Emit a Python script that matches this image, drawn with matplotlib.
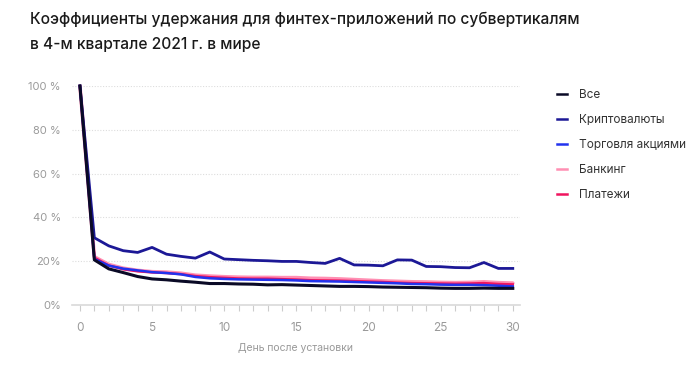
import matplotlib
matplotlib.use("Agg")
import matplotlib.pyplot as plt
from matplotlib.lines import Line2D

plt.rcParams['font.family'] = ['Inter', 'DejaVu Sans']

days = list(range(31))

vse = [100, 20.6, 16.5, 14.8, 13.0, 11.9, 11.5, 10.9, 10.4, 9.8, 9.8, 9.6, 9.5, 9.2, 9.3,
       9.1, 8.9, 8.7, 8.5, 8.5, 8.4, 8.2, 8.1, 8.0, 7.9, 7.7, 7.6, 7.6, 7.7, 7.6, 7.6]
crypto = [100, 30.7, 27.0, 24.8, 24.0, 26.3, 23.2, 22.2, 21.4, 24.2, 21.0, 20.7, 20.4, 20.2, 19.9,
          19.9, 19.4, 19.0, 21.3, 18.3, 18.2, 17.9, 20.6, 20.5, 17.6, 17.5, 17.1, 17.0, 19.4, 16.7, 16.7]
trading = [100, 21.0, 18.0, 16.6, 15.8, 15.0, 14.6, 14.0, 12.8, 12.2, 11.9, 11.7, 11.6, 11.5, 11.4,
           11.2, 10.9, 10.8, 10.7, 10.5, 10.3, 10.1, 9.9, 9.6, 9.5, 9.3, 9.2, 9.2, 9.1, 8.8, 8.5]
banking = [100, 22.0, 18.5, 16.8, 15.8, 15.2, 15.0, 14.5, 13.6, 13.2, 12.9, 12.7, 12.6, 12.6, 12.5,
           12.5, 12.2, 12.1, 11.9, 11.6, 11.3, 11.0, 10.8, 10.6, 10.5, 10.3, 10.2, 10.3, 10.6, 10.2, 10.0]
payments = [100, 21.6, 18.0, 16.3, 15.4, 14.9, 14.6, 14.1, 13.2, 12.7, 12.4, 12.1, 12.0, 12.0, 11.8,
            11.6, 11.3, 11.2, 11.1, 10.9, 10.7, 10.5, 10.2, 10.0, 9.9, 9.8, 9.7, 9.8, 10.0, 9.6, 9.4]

series_names = ["Все", "Криптовалюты", "Торговля акциями", "Банкинг", "Платежи"]
colors = ["#0a0a26", "#1c1896", "#2233ee", "#ff8fb3", "#f0145e"]

y_ticks = [0, 20, 40, 60, 80, 100]
y_tick_labels = ["0%", "20%", "40 %", "60 %", "80 %", "100 %"]
x_ticks = [0, 5, 10, 15, 20, 25, 30]

title = "Коэффициенты удержания для финтех-приложений по субвертикалям\nв 4-м квартале 2021 г. в мире"
xlabel = "День после установки"

fig = plt.figure(figsize=(7, 3.9), dpi=100)
ax = fig.add_axes([72/700, 1-305/390, (520-72)/700, (305-86)/390])

ax.plot(days, banking, color=colors[3], lw=2.6, zorder=3, solid_capstyle='round', clip_on=False)
ax.plot(days, payments, color=colors[4], lw=1.8, zorder=4, clip_on=False)
ax.plot(days, trading, color=colors[2], lw=1.8, zorder=5, clip_on=False)
ax.plot(days, crypto, color=colors[1], lw=2.0, zorder=6, clip_on=False)
ax.plot(days, vse, color=colors[0], lw=2.2, zorder=7, clip_on=False)

ax.set_xlim(-0.55, 30.5)
ax.set_ylim(0, 100)
ax.set_yticks(y_ticks)
ax.set_yticklabels(y_tick_labels)
ax.set_xticks(x_ticks)
ax.set_xticks(days, minor=True)
ax.tick_params(axis='y', length=0, pad=8, labelsize=8, labelcolor='#9a9a9a')
ax.tick_params(axis='x', which='both', length=4, width=0.8, color='#cccccc', pad=8,
               labelsize=8.5, labelcolor='#9a9a9a')
for s in ['top', 'right', 'left']:
    ax.spines[s].set_visible(False)
ax.spines['bottom'].set_color('#d9d9d9')
ax.spines['bottom'].set_linewidth(1.2)
ax.yaxis.grid(True, color='#dddddd', linestyle=(0, (1, 1.5)), linewidth=0.8)
ax.set_axisbelow(True)
ax.set_xlabel(xlabel, fontsize=7.5, color='#999999', labelpad=7)

fig.text(30/700, 1-12/390, title, ha='left', va='top', fontsize=11.2, fontweight='medium',
         color='#1a1a1a', linespacing=1.8)

handles = [Line2D([0], [0], color=c, lw=1.8) for c in colors]
leg = fig.legend(handles, series_names, loc='upper left', bbox_to_anchor=(552/700, 1-84/390),
                 frameon=False, fontsize=8.5, handlelength=0.9, handletextpad=1.0,
                 labelspacing=1.1, borderaxespad=0)
for t in leg.get_texts():
    t.set_color('#333333')

fig.savefig("out.png", dpi=100, facecolor='white')
